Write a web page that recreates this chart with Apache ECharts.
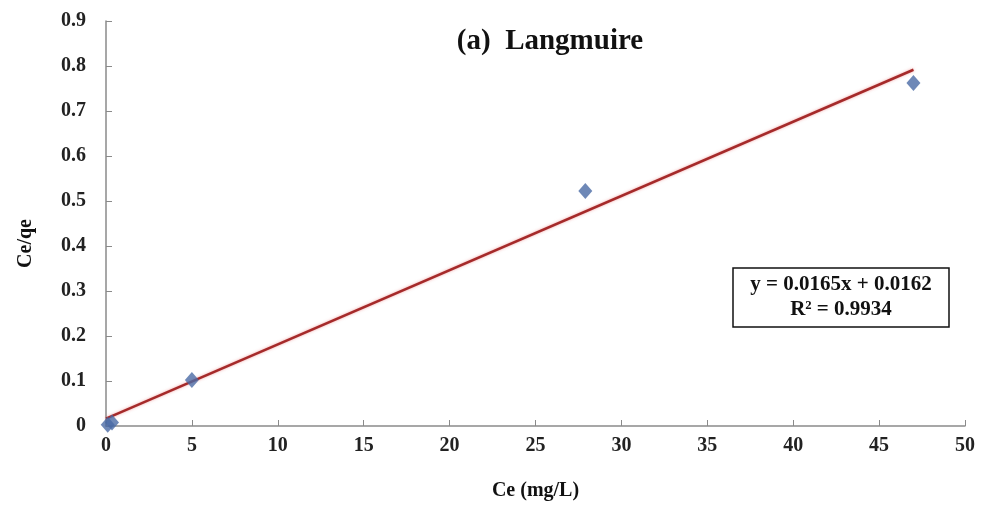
<!DOCTYPE html>
<html>
<head>
<meta charset="utf-8">
<script src="https://cdn.jsdelivr.net/npm/echarts@6/dist/echarts.min.js"></script>
<style>html,body{margin:0;padding:0;background:#fff}#c{width:984px;height:506px}</style>
</head>
<body>
<div id="c"></div>
<script>
var ceValues = [0.1, 0.35, 5.0, 27.9, 47.0];
var ceQeValues = [0.003, 0.008, 0.102, 0.522, 0.762];
var fitSlope = 0.0165;
var fitIntercept = 0.0162;
var fitRange = [0, 47.0];
var titleText = '(a)  Langmuire';
var equationLines = ['y = 0.0165x + 0.0162', 'R\u00b2 = 0.9934'];

var points = ceValues.map(function (x, i) { return [x, ceQeValues[i]]; });
var fitLine = fitRange.map(function (x) { return [x, fitSlope * x + fitIntercept]; });
var serif = '"Liberation Serif", "Times New Roman", serif';

var chart = echarts.init(document.getElementById('c'));
chart.setOption({
  backgroundColor: '#fff',
  animation: false,
  title: {
    text: titleText,
    left: 545, top: 22, textAlign: 'center',
    textStyle: { fontFamily: serif, fontWeight: 'bold', fontSize: 29, color: '#111' }
  },
  grid: { left: 106, right: 19, top: 21, bottom: 80, containLabel: false, outerBoundsMode: 'none' },
  xAxis: {
    type: 'value', min: 0, max: 50, interval: 5,
    name: 'Ce (mg/L)', nameLocation: 'middle', nameGap: 55,
    nameTextStyle: { fontFamily: serif, fontWeight: 'bold', fontSize: 20, color: '#111' },
    axisLine: { lineStyle: { color: '#8a8a8a', width: 1.5 } },
    axisTick: { show: true, inside: true, length: 6, lineStyle: { color: '#8a8a8a' } },
    axisLabel: { fontFamily: serif, fontWeight: 'bold', fontSize: 20, color: '#222', margin: 10 },
    splitLine: { show: false }
  },
  yAxis: {
    type: 'value', min: 0, max: 0.9, interval: 0.1,
    name: 'Ce/qe', nameLocation: 'middle', nameGap: 70, nameRotate: 90,
    nameTextStyle: { fontFamily: serif, fontWeight: 'bold', fontSize: 20, color: '#111', padding: [0, 40, 0, 0] },
    axisLine: { show: true, lineStyle: { color: '#8a8a8a', width: 1.5 } },
    axisTick: { show: true, inside: true, length: 6, lineStyle: { color: '#8a8a8a' } },
    axisLabel: {
      fontFamily: serif, fontWeight: 'bold', fontSize: 20, color: '#222', margin: 20,
      formatter: function (v) { return String(Number(v.toFixed(1))); }
    },
    splitLine: { show: false }
  },
  series: [
    {
      type: 'line', data: fitLine, symbol: 'none', z: 2,
      lineStyle: { color: '#a52a2a', width: 2.5, shadowColor: 'rgba(230,80,80,0.5)', shadowBlur: 3 }
    },
    {
      type: 'scatter', data: points, symbol: 'diamond', symbolSize: [14, 16], z: 3,
      itemStyle: { color: '#4a6aa5' }
    }
  ],
  graphic: [
    {
      type: 'rect', x: 733, y: 268,
      shape: { width: 216, height: 59 },
      style: { fill: '#fff', stroke: '#111', lineWidth: 1.5 }
    },
    {
      type: 'text', x: 841, y: 272,
      style: {
        text: equationLines.join('\n'), align: 'center', verticalAlign: 'top',
        font: 'bold 21px ' + serif, fill: '#111', lineHeight: 25
      }
    }
  ]
});
</script>
</body>
</html>
